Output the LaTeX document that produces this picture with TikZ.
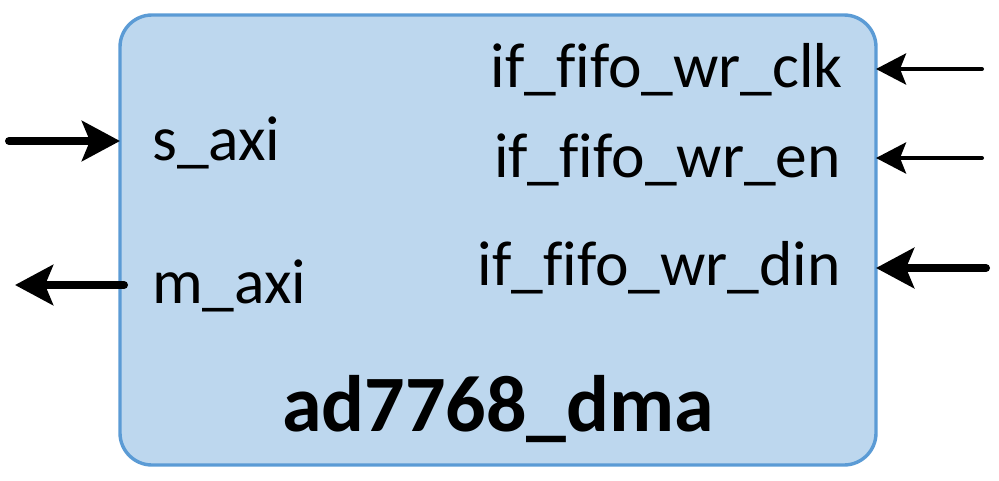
\documentclass[tikz,border=0pt]{standalone}
\usepackage{fontspec}
\setmainfont{Carlito}[Ligatures=CommonOff]
\usetikzlibrary{arrows.meta}
\definecolor{blockfill}{HTML}{BDD7EE}
\definecolor{blockline}{HTML}{5B9BD5}
\begin{document}
\begin{tikzpicture}[x=1pt,y=-1pt,
  block/.style={draw=blockline, fill=blockfill, line width=3.4pt,
    rounded corners=32pt, minimum width=756pt, minimum height=450pt,
    outer sep=0pt, inner sep=0pt},
  port/.style={inner sep=0pt, font=\fontsize{63.5}{63.5}\selectfont},
  title/.style={inner sep=0pt, font=\fontsize{80}{80}\selectfont\bfseries},
  wide/.style={line width=8pt, line cap=round,
    -{Stealth[length=38pt, width=40pt, inset=8pt]}},
  thin/.style={line width=4pt, line cap=round,
    -{Stealth[length=30pt, width=31pt, inset=6pt]}}]
  \useasboundingbox (0,0) rectangle (999,480);

  % the block
  \node[block] (dma) at (498,240) {};
  \node[title, anchor=base] (name) at (498,431) {ad7768\_dma};

  % port names
  \node[port, anchor=base west] (saxi) at (152,160) {s\_axi};
  \node[port, anchor=base west] (maxi) at (152,303) {m\_axi};
  \node[port, anchor=base east] (wrclk) at (843,87) {if\_fifo\_wr\_clk};
  \node[port, anchor=base east] (wren)  at (841,177) {if\_fifo\_wr\_en};
  \node[port, anchor=base east] (wrdin) at (841,285) {if\_fifo\_wr\_din};

  % free ends of the port arrows
  \coordinate (sin)  at (9,141);
  \coordinate (mout) at (15,285);
  \coordinate (clkin) at (982,69);
  \coordinate (enin)  at (982,158);
  \coordinate (dinin) at (986,268);

  % port arrows
  \draw[wide] (sin) -- (sin -| dma.west);
  \draw[wide] ([xshift=4pt]dma.west |- mout) -- (mout);
  \draw[thin] (clkin) -- (clkin -| dma.east);
  \draw[thin] (enin) -- (enin -| dma.east);
  \draw[wide] (dinin) -- (dinin -| dma.east);
\end{tikzpicture}
\end{document}
